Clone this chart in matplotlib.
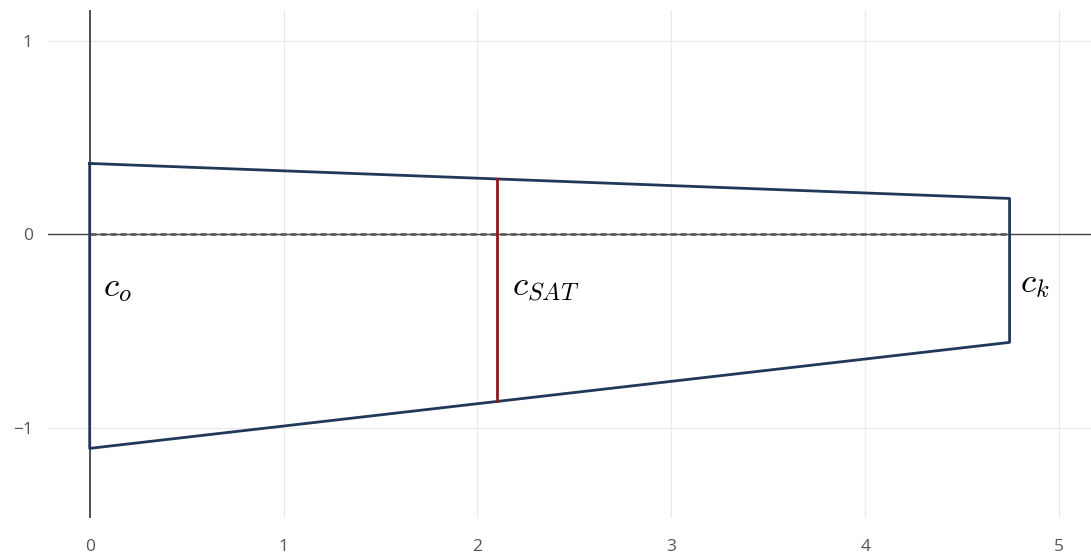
import matplotlib
matplotlib.use("Agg")
import matplotlib.pyplot as plt

plt.rcParams['font.family'] = ['Open Sans', 'DejaVu Sans']
plt.rcParams['mathtext.fontset'] = 'cm'

# outline of the trapezoid
shape_x = [0, 4.745, 4.745, 0]
shape_y = [0.367, 0.186, -0.558, -1.106]

# red section line
sat_x = [2.10, 2.10]
sat_y = [0.286, -0.862]

# zero line under the shape
zero_x = [0, 4.745]
zero_y = [0, 0]

labels = [r'$c_o$', r'$c_{SAT}$', r'$c_k$']
label_x = [0.07, 2.18, 4.8]
label_y = [-0.27, -0.27, -0.25]

x_ticks = [0, 1, 2, 3, 4, 5]
y_ticks = [-1, 0, 1]

fig = plt.figure(figsize=(10.91, 5.58), dpi=100)
ax = fig.add_axes([0.044, 0.072, 0.956, 0.91])

ax.set_xlim(-0.215, 5.165)
ax.set_ylim(-1.465, 1.16)

ax.grid(True, color='#ebebeb', linewidth=1)
ax.set_axisbelow(True)
for s in ax.spines.values():
    s.set_visible(False)

ax.axvline(0, color='#444444', linewidth=1.3, zorder=2)
ax.axhline(0, color='#444444', linewidth=1.0, zorder=2)

ax.plot(zero_x, zero_y, color='#5e5e5e', linestyle=(0, (2.2, 1.4)), linewidth=2.0, zorder=3)
ax.plot(shape_x + shape_x[:1], shape_y + shape_y[:1], color='#22385a', linewidth=2, zorder=4)
ax.plot(sat_x, sat_y, color='#8b1a1f', linewidth=2, zorder=5)

for lab, lx, ly in zip(labels, label_x, label_y):
    ax.text(lx, ly, lab, fontsize=25, va='center', ha='left')

ax.set_xticks(x_ticks)
ax.set_yticks(y_ticks)
ax.set_yticklabels(['\u22121', '0', '1'])
ax.tick_params(length=0, labelsize=12.5, labelcolor='#555555')
ax.tick_params(axis='x', pad=15)
ax.tick_params(axis='y', pad=11)

fig.savefig('out.png', dpi=100)
